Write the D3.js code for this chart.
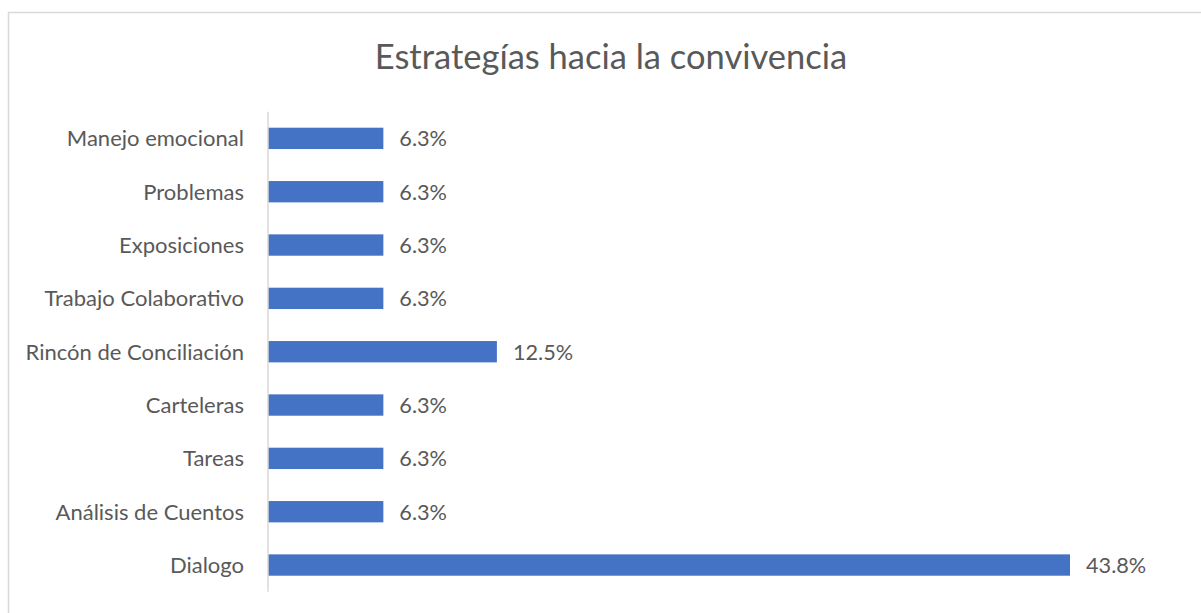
<!DOCTYPE html>
<html>
<head>
<meta charset="utf-8">
<script src="https://cdn.jsdelivr.net/npm/d3@7"></script>
<style>
  html, body { margin: 0; padding: 0; background: #fff; }
  svg { display: block; }
  text { font-family: Lato, "Open Sans", sans-serif; fill: #595959; }
</style>
</head>
<body>
<div id="chart"></div>
<script>
// Data, top to bottom
const categories = [
  'Manejo emocional', 'Problemas', 'Exposiciones', 'Trabajo Colaborativo',
  'Rincón de Conciliación', 'Carteleras', 'Tareas', 'Análisis de Cuentos', 'Dialogo'
];
const values = [6.3, 6.3, 6.3, 6.3, 12.5, 6.3, 6.3, 6.3, 43.8];
const title = 'Estrategías hacia la convivencia';

const width = 1201, height = 613;

const svg = d3.select('#chart')
  .append('svg')
  .attr('width', width)
  .attr('height', height);

// chart frame (runs off right and bottom edges)
svg.append('rect')
  .attr('x', 8.5).attr('y', 12.5)
  .attr('width', 1220).attr('height', 620)
  .attr('fill', 'none')
  .attr('stroke', '#d9d9d9')
  .attr('stroke-width', 1.5);

svg.append('text')
  .attr('x', 611)
  .attr('y', 69)
  .attr('text-anchor', 'middle')
  .style('font-size', '34.5px')
  .text(title);

const x0 = 268;
const x = d3.scaleLinear()
  .domain([0, 43.8])
  .range([x0, 1070]);

const y = d3.scaleBand()
  .domain(categories)
  .range([111.7, 591.7])
  .paddingInner(0.6)
  .paddingOuter(0.3);

const data = categories.map((c, i) => ({ cat: c, val: values[i] }));

// bars
svg.selectAll('.bar')
  .data(data)
  .enter()
  .append('rect')
  .attr('class', 'bar')
  .attr('x', x(0))
  .attr('y', d => y(d.cat))
  .attr('width', d => x(d.val) - x(0))
  .attr('height', y.bandwidth())
  .attr('fill', '#4472c4');

// category axis
const yAxis = svg.append('g')
  .attr('transform', `translate(${x0},0)`)
  .call(d3.axisLeft(y).tickSize(0).tickPadding(24));

yAxis.select('.domain')
  .attr('stroke', '#d9d9d9')
  .attr('stroke-width', 1.5)
  .attr('d', 'M0,111.7V591.7');

yAxis.selectAll('text')
  .style('font-size', '22px')
  .style('font-family', 'Lato, "Open Sans", sans-serif')
  .attr('fill', '#595959')
  .attr('dy', '0.36em');

// value labels
svg.selectAll('.val')
  .data(data)
  .enter()
  .append('text')
  .attr('class', 'val')
  .attr('x', d => x(d.val) + 16)
  .attr('y', d => y(d.cat) + y.bandwidth() / 2)
  .attr('dy', '0.36em')
  .style('font-size', '21.7px')
  .text(d => d.val.toFixed(1) + '%');
</script>
</body>
</html>
